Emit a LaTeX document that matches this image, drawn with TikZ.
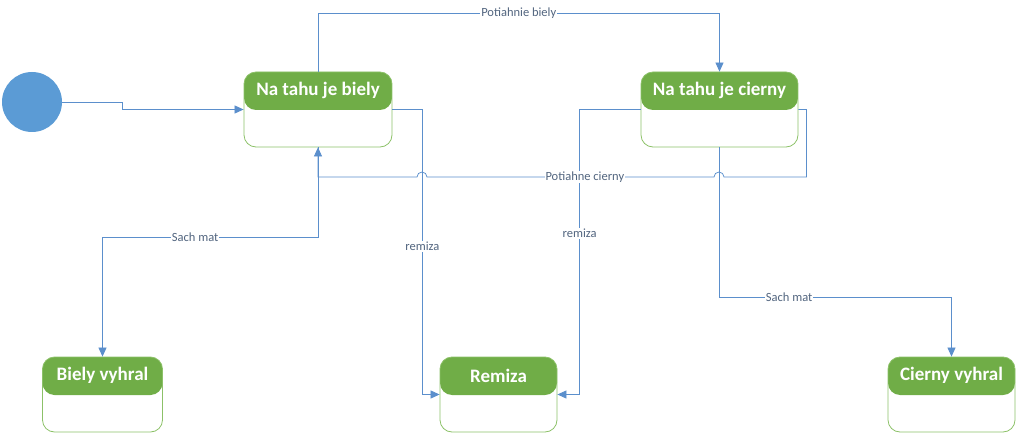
\documentclass[tikz,border=0pt]{standalone}
\usepackage{fontspec}
\setmainfont{Carlito}
\usetikzlibrary{arrows.meta}
\definecolor{hdrgreen}{HTML}{70AD47}
\definecolor{boxgreen}{HTML}{8CC168}
\definecolor{lineblue}{HTML}{5B8FCC}
\definecolor{dotblue}{HTML}{5B9BD5}
\definecolor{lbltext}{HTML}{52657F}
\begin{document}
\begin{tikzpicture}[x=1pt,y=-1pt,
  state/.style={draw=boxgreen,line width=0.8pt,rounded corners=12pt,minimum height=75pt,inner sep=0pt,
    path picture={\fill[hdrgreen] (path picture bounding box.north west) rectangle ([yshift=-38pt]path picture bounding box.north east);}},
  title/.style={text=white,font=\fontsize{19}{22}\selectfont\bfseries},
  conn/.style={draw=lineblue,line width=0.75pt,-{Triangle[length=9pt,width=8pt]}},
  lbl/.style={fill=white,text=lbltext,font=\fontsize{12.5}{14}\selectfont,inner sep=1pt}]
\useasboundingbox (0,0) rectangle (1017,433);
\node[circle,fill=dotblue,minimum size=60pt,inner sep=0pt] (init) at (32,102) {};
\foreach \n/\x/\y/\w/\t in {biely/318/109.5/148/Na tahu je biely,cierny/719.5/109.5/157/Na tahu je cierny,bvyhral/102.5/394.5/120/Biely vyhral,remiza/498.5/394.5/117/Remiza,cvyhral/951.5/394.5/127/Cierny vyhral} {
\node[state,minimum width=\w pt] (\n) at (\x,\y) {};
\node[title] (\n-t) at ([yshift=-19pt]\n.north) {\t};
}
\draw[conn] (init) -- (122,102) |- (biely.west);
\draw[conn] (biely.north) -- (biely.north |- 0,13) -- node[lbl] {Potiahnie biely} (cierny.north |- 0,13) -- (cierny.north);
\draw[conn] (biely.east) -- ++(30,0) |- node[lbl,pos=0.24] {remiza} (remiza.west);
\draw[conn] (cierny.west) -- ++(-61,0) |- node[lbl,pos=0.217] {remiza} (remiza.east);
\draw[conn] (biely.south) -- ++(0,90) -| node[lbl,pos=0.285] {Sach mat} (bvyhral.north);
\draw[conn] (cierny.south) -- ++(0,150) -| node[lbl,pos=0.15] {Sach mat} (cvyhral.north);
\draw[conn] (cierny.east) -- ++(8,0) -- ++(0,67.5) -- (724,177) arc[start angle=0,end angle=180,radius=5pt]
  -- node[lbl,pos=0.45] {Potiahne cierny} (427,177) arc[start angle=0,end angle=180,radius=5pt]
  -- (biely.south |- 0,177) -- (biely.south);
\end{tikzpicture}
\end{document}
